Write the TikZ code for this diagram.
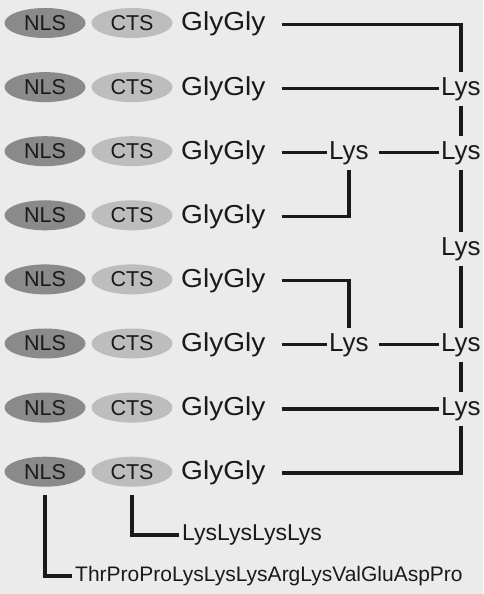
\documentclass[tikz,border=0pt]{standalone}
\usepackage{fontspec}
\setmainfont{Liberation Sans}
\newfontfamily\widefont[FakeStretch=1.08]{Liberation Sans}
\usetikzlibrary{shapes.geometric}

\definecolor{paper}{HTML}{EBEBEB}
\definecolor{ink}{HTML}{1A1A1A}
\definecolor{nlsfill}{HTML}{8A8A8A}
\definecolor{ctsfill}{HTML}{BDBDBD}

\tikzset{
  blob/.style={ellipse, minimum width=81pt, minimum height=30pt, inner sep=0pt,
    text=ink, font=\fontsize{21.5}{21.5}\selectfont},
  nlsblob/.style={blob, fill=nlsfill},
  ctsblob/.style={blob, fill=ctsfill},
  gg/.style={anchor=base west, inner sep=0pt, text=ink, font=\widefont\fontsize{26}{26}\selectfont},
  lys/.style={anchor=base west, inner xsep=2pt, inner ysep=5pt, text=ink,
    font=\fontsize{26}{26}\selectfont},
  seqtext/.style={anchor=west, inner sep=0pt, text=ink},
  link/.style={draw=ink, line width=3.4pt},
}

\begin{document}
\begin{tikzpicture}[x=1pt,y=-1pt]
  \fill[paper] (0,0) rectangle (483,594);
  \useasboundingbox (0,0) rectangle (483,594);

  % eight tagged chains
  \foreach \i in {1,...,8}{
    \pgfmathsetmacro{\ry}{23+64.1*(\i-1)}
    \node[nlsblob] (n\i) at (45,\ry) {NLS};
    \node[ctsblob] (c\i) at (132,\ry) {CTS};
    \node[gg] (g\i) at (181,\ry+8) {GlyGly};
    \coordinate (e\i) at ([xshift=16pt]g\i.east);
  }

  % lysine branch points
  \node[lys] (r2) at (439,87+8) {Lys};
  \node[lys] (r3) at (439,151+8) {Lys};
  \node[lys] (m3) at (327,151+8) {Lys};
  \node[lys] (rv) at (439,247+8) {Lys};
  \node[lys] (m6) at (327,343+8) {Lys};
  \node[lys] (r6) at (439,343+8) {Lys};
  \node[lys] (r7) at (439,407+8) {Lys};
  \coordinate (m3out) at ([xshift=8pt]m3.east);
  \coordinate (m6out) at ([xshift=8pt]m6.east);

  % sequences of the targeting signals
  \node[seqtext, font=\fontsize{23}{23}\selectfont] (cseq) at (182,535) {LysLysLysLys};
  \node[seqtext, font=\fontsize{21}{21}\selectfont] (nseq) at (75,576) {ThrProProLysLysLysArgLysValGluAspPro};

  % chain-to-branch connections
  \draw[link] (e1) -| (r2.north);
  \draw[link] (e2) -- (r2.west |- e2);
  \draw[link] (e3) -- (m3.west |- e3);
  \draw[link] (m3out) -- (r3.west |- m3out);
  \draw[link] (e4) -| (m3.south);
  \draw[link] (e5) -| (m6.north);
  \draw[link] (e6) -- (m6.west |- e6);
  \draw[link] (m6out) -- (r6.west |- m6out);
  \draw[link] (e7) -- (r7.west |- e7);

  % trunk of branch points
  \draw[link] (r2.south) -- (r3.north);
  \draw[link] (r3.south) -- (rv.north);
  \draw[link] (rv.south) -- (r6.north);
  \draw[link] (r6.south) -- (r7.north);
  \draw[link] (r7.south) |- (e8);

  % signal labels
  \draw[link, shorten <=8pt] (n8.south) |- ([xshift=-3pt]nseq.west);
  \draw[link, shorten <=8pt] (c8.south) |- ([xshift=-3pt]cseq.west);
\end{tikzpicture}
\end{document}
